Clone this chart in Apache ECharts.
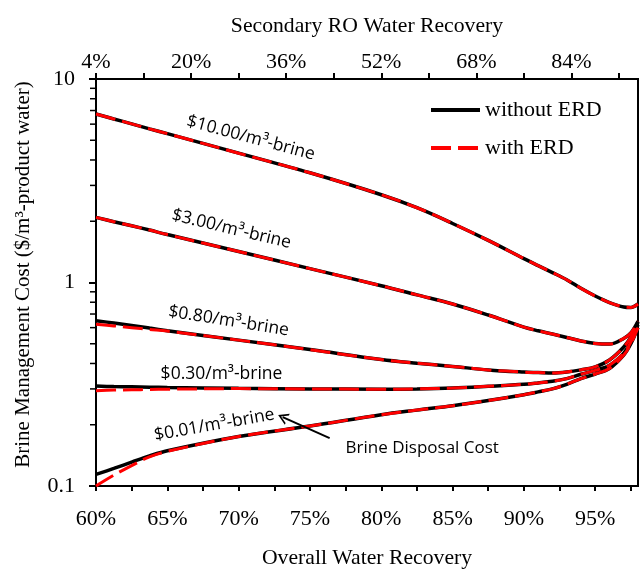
<!DOCTYPE html>
<html>
<head>
<meta charset="utf-8">
<script src="https://cdn.jsdelivr.net/npm/echarts@6/dist/echarts.min.js"></script>
<style>html,body{margin:0;padding:0;background:#fff}#c{width:640px;height:571px}</style>
</head>
<body>
<div id="c"></div>
<script>
// Overall water recovery (%)
const overall = [60, 61.25, 62.5, 63.75, 65, 70, 75, 80, 82.5, 85, 87.5, 90, 91, 92, 93, 94, 95, 96, 97, 97.5, 98];
// Brine management cost ($/m3-product water)
const cost10_noERD = [6.73, 6.36, 6.02, 5.69, 5.39, 4.32, 3.46, 2.70, 2.33, 1.95, 1.61, 1.31, 1.21, 1.119, 1.032, 0.936, 0.858, 0.797, 0.758, 0.754, 0.784];
const cost10_ERD   = [6.73, 6.36, 6.02, 5.69, 5.39, 4.32, 3.46, 2.70, 2.33, 1.95, 1.61, 1.31, 1.21, 1.119, 1.032, 0.936, 0.858, 0.797, 0.758, 0.754, 0.784];
const cost3_noERD  = [2.09, 1.99, 1.90, 1.81, 1.72, 1.42, 1.17, 0.964, 0.869, 0.784, 0.692, 0.604, 0.579, 0.558, 0.537, 0.516, 0.502, 0.498, 0.531, 0.565, 0.645];
const cost3_ERD    = [2.09, 1.99, 1.90, 1.81, 1.72, 1.42, 1.17, 0.964, 0.869, 0.784, 0.692, 0.604, 0.579, 0.558, 0.537, 0.516, 0.502, 0.498, 0.531, 0.565, 0.645];
const cost080_noERD = [0.649, 0.632, 0.615, 0.597, 0.58, 0.521, 0.468, 0.418, 0.401, 0.387, 0.372, 0.363, 0.361, 0.359, 0.363, 0.372, 0.385, 0.416, 0.482, 0.54, 0.64];
const cost080_ERD   = [0.623, 0.612, 0.600, 0.588, 0.577, 0.521, 0.468, 0.418, 0.401, 0.387, 0.372, 0.363, 0.361, 0.359, 0.363, 0.372, 0.385, 0.416, 0.482, 0.54, 0.64];
const cost030_noERD = [0.31, 0.308, 0.307, 0.306, 0.305, 0.302, 0.300, 0.299, 0.300, 0.303, 0.309, 0.316, 0.321, 0.327, 0.337, 0.354, 0.37, 0.392, 0.45, 0.51, 0.62];
const cost030_ERD   = [0.294, 0.296, 0.297, 0.298, 0.299, 0.301, 0.300, 0.299, 0.300, 0.303, 0.309, 0.316, 0.321, 0.327, 0.337, 0.354, 0.37, 0.392, 0.45, 0.51, 0.62];
const cost001_noERD = [0.114, 0.122, 0.131, 0.1405, 0.149, 0.175, 0.197, 0.224, 0.236, 0.248, 0.263, 0.281, 0.29, 0.30, 0.316, 0.337, 0.355, 0.378, 0.44, 0.50, 0.60];
const cost001_ERD   = [0.100, 0.113, 0.126, 0.139, 0.148, 0.175, 0.197, 0.224, 0.236, 0.248, 0.263, 0.281, 0.29, 0.30, 0.316, 0.337, 0.355, 0.378, 0.44, 0.50, 0.60];

const curveLabels = ['$10.00/m³-brine', '$3.00/m³-brine', '$0.80/m³-brine', '$0.30/m³-brine', '$0.01/m³-brine'];
const labelAt = [[70.85, 5.13], [69.5, 1.83], [69.3, 0.647], [68.8, 0.355], [68.3, 0.1995]];
const labelRotate = [-15, -13.5, -9, 0, 10];

const annotationText = 'Brine Disposal Cost';
const annotationAt = [77.5, 0.154];
const arrowFrom = [76.38, 0.172];
const arrowTo = [73.09, 0.218];

const xMin = 60, xMax = 98;
const secondaryMin = 4, secondaryMax = 95.2;   // secondary RO recovery range matching overall 60-98%
const yMinorTicks = [0.2, 0.3, 0.4, 0.5, 0.6, 0.7, 0.8, 0.9, 2, 3, 4, 5, 6, 7, 8, 9];

const noERD = [cost10_noERD, cost3_noERD, cost080_noERD, cost030_noERD, cost001_noERD];
const withERD = [cost10_ERD, cost3_ERD, cost080_ERD, cost030_ERD, cost001_ERD];

const serif = 'Liberation Serif';
const sans = 'Open Sans';

const pairs = arr => overall.map((x, i) => [x, arr[i]]);

const series = [];
noERD.forEach((arr, i) => {
  const s = {
    name: 'without ERD', type: 'line', data: pairs(arr), smooth: 0.35,
    symbol: 'none', z: 2, silent: true,
    lineStyle: { color: '#000', width: 3.5 },
    itemStyle: { color: '#000' },
    markPoint: {
      symbol: 'circle', symbolSize: 0, silent: true,
      label: {
        show: true, position: 'inside', formatter: curveLabels[i],
        rotate: labelRotate[i], color: '#000', fontFamily: sans, fontSize: 17.5
      },
      data: [{ coord: labelAt[i] }]
    }
  };
  if (i === 4) {
    s.markPoint.data.push({
      coord: annotationAt,
      label: { show: true, position: 'right', distance: 0, formatter: annotationText, rotate: 0,
               color: '#000', fontFamily: sans, fontSize: 17 }
    });
    s.markLine = {
      silent: true,
      symbol: ['none', 'path://M5,0 L10,10 L8.4,10 L5,3.2 L1.6,10 L0,10 Z'],
      symbolSize: [12, 10], symbolOffset: [0, 0],
      label: { show: false },
      lineStyle: { color: '#000', width: 2, type: 'solid' },
      data: [[{ coord: arrowFrom }, { coord: arrowTo }]]
    };
  }
  series.push(s);
});
withERD.forEach((arr) => {
  series.push({
    name: 'with ERD', type: 'line', data: pairs(arr), smooth: 0.35,
    symbol: 'none', z: 3, silent: true,
    lineStyle: { color: '#ff0000', width: 3, type: [20, 7] },
    itemStyle: { color: '#ff0000' }
  });
});
series.push({
  type: 'custom', silent: true, z: 5,
  data: yMinorTicks.map(v => [xMin, v]),
  renderItem: (params, api) => {
    const p = api.coord([api.value(0), api.value(1)]);
    return { type: 'line', shape: { x1: p[0] - 6, y1: p[1], x2: p[0], y2: p[1] },
             style: { stroke: '#000', lineWidth: 1.5 } };
  }
});

const chart = echarts.init(document.getElementById('c'));
chart.setOption({
  animation: false,
  backgroundColor: '#fff',
  grid: { left: 96, right: 2, top: 79, bottom: 85, outerBoundsMode: 'none', containLabel: false,
          show: true, borderColor: '#000', borderWidth: 2, backgroundColor: 'transparent' },
  legend: {
    data: ['without ERD', 'with ERD'], orient: 'vertical', left: 429, top: 98, padding: 0,
    itemWidth: 49, itemHeight: 14, itemGap: 14,
    itemStyle: { color: 'rgba(0,0,0,0)', borderWidth: 0, opacity: 0 },
    lineStyle: { width: 4 },
    textStyle: { fontFamily: serif, fontSize: 22, color: '#000', lineHeight: 24 }
  },
  xAxis: [{
    type: 'value', position: 'bottom', min: xMin, max: xMax, interval: 2.5,
    name: 'Overall Water Recovery', nameLocation: 'middle', nameGap: 61,
    nameTextStyle: { fontFamily: serif, fontSize: 21.7, color: '#000' },
    axisLine: { show: true, lineStyle: { color: '#000', width: 2 } },
    axisTick: { show: true, inside: false, length: 5, lineStyle: { color: '#000', width: 2 } },
    axisLabel: { margin: 22, fontFamily: serif, fontSize: 22, color: '#000', showMaxLabel: false,
      formatter: v => (Math.abs(v % 5) < 1e-6 ? v + '%' : '') },
    splitLine: { show: false }
  }, {
    type: 'value', position: 'top', min: 0, max: secondaryMax - secondaryMin, interval: 8,
    name: 'Secondary RO Water Recovery', nameLocation: 'middle', nameGap: 42,
    nameTextStyle: { fontFamily: serif, fontSize: 21.7, color: '#000' },
    axisLine: { show: true, lineStyle: { color: '#000', width: 2 } },
    axisTick: { show: true, inside: false, length: 6, lineStyle: { color: '#000', width: 2 } },
    axisLabel: { margin: 6, fontFamily: serif, fontSize: 22, color: '#000', showMaxLabel: false,
      formatter: v => (Math.abs(v % 16) < 1e-6 ? Math.round(v + secondaryMin) + '%' : '') },
    splitLine: { show: false }
  }],
  yAxis: {
    type: 'log', logBase: 10, min: 0.1, max: 10,
    name: 'Brine Management Cost ($/m³-product water)', nameLocation: 'middle', nameGap: 62,
    nameTextStyle: { fontFamily: serif, fontSize: 21, color: '#000', padding: [0, 0, 0, 16] },
    axisLine: { show: true, lineStyle: { color: '#000', width: 2 } },
    axisTick: { show: true, inside: false, length: 7, lineStyle: { color: '#000', width: 2 } },
    axisLabel: { margin: 21, fontFamily: serif, fontSize: 22, color: '#000',
      formatter: v => String(v) },
    splitLine: { show: false },
    minorTick: { show: false }
  },
  series: series
});
</script>
</body>
</html>
